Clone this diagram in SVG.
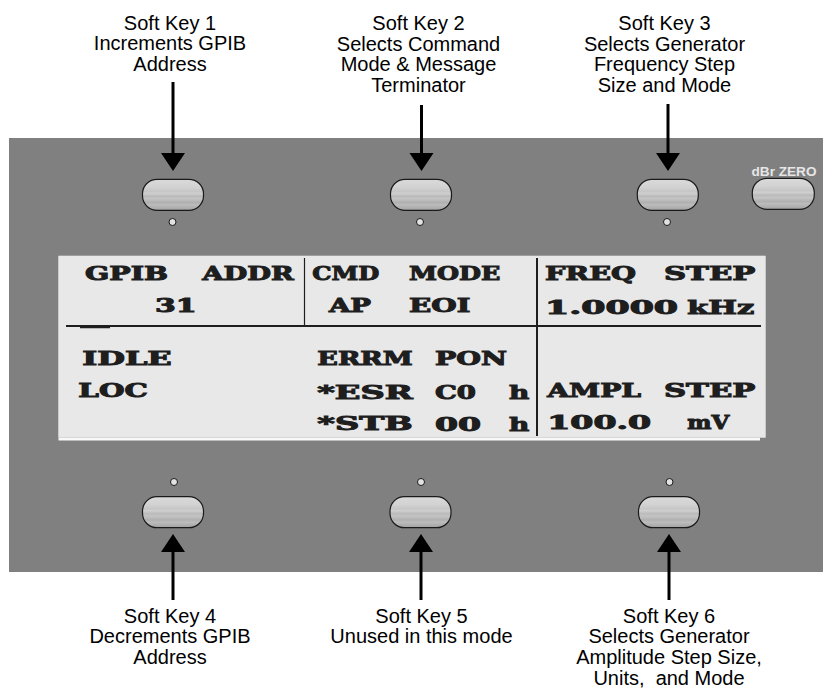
<svg xmlns="http://www.w3.org/2000/svg" width="823" height="688" viewBox="0 0 823 688">
<style>
.lbl{font-family:"Liberation Sans",Arial,sans-serif;font-size:20px;fill:#000;text-anchor:middle}
.lcd{font-family:"DejaVu Serif","Liberation Serif",serif;font-weight:bold;font-size:18.8px;fill:#1e1e1e;stroke:#1e1e1e;stroke-width:1;stroke-linejoin:miter}
.btn{fill:url(#btnGrad);stroke:#1a1a1a;stroke-width:1.2}
.led{fill:#e2e2e2;stroke:#1a1a1a;stroke-width:1}
.conn{stroke:#000;stroke-width:3;fill:none;marker-end:url(#arrow)}
.div{stroke:#1e1e1e;fill:none}
</style>
<defs>
<linearGradient id="btnGrad" x1="0" y1="0" x2="0" y2="1">
<stop offset="0" stop-color="#dadada"/>
<stop offset="0.25" stop-color="#d2d2d2"/>
<stop offset="0.4" stop-color="#c6c6c6"/>
<stop offset="0.45" stop-color="#d0d0d0"/>
<stop offset="0.55" stop-color="#bababa"/>
<stop offset="0.62" stop-color="#c4c4c4"/>
<stop offset="0.75" stop-color="#b0b0b0"/>
<stop offset="0.82" stop-color="#bcbcbc"/>
<stop offset="1" stop-color="#a2a2a2"/>
</linearGradient>
<marker id="arrow" markerUnits="userSpaceOnUse" markerWidth="18" markerHeight="24" viewBox="0 -12 18 24" refX="0" refY="0" orient="auto" overflow="visible">
<path d="M0,-12 L18,0 L0,12 Z" fill="#000"/>
</marker>
</defs>

<rect id="panel" x="9" y="138" width="814" height="434" fill="#808080"/>

<g id="lcd">
<rect x="58.3" y="255.7" width="707.4" height="182" fill="#e8e8e8"/>
<rect x="58.5" y="437.7" width="701.5" height="2.8" fill="#f8f8f8"/>
<line class="div" x1="66" y1="326" x2="761" y2="326" stroke-width="2"/>
<line class="div" x1="80" y1="327.5" x2="110" y2="327.5" stroke-width="1.5"/>
<line class="div" x1="304.5" y1="258" x2="304.5" y2="326" stroke-width="1.2"/>
<line class="div" x1="537" y1="258" x2="537" y2="436" stroke-width="2"/>
<text class="lcd" x="85" y="279.5" textLength="83" lengthAdjust="spacingAndGlyphs">GPIB</text>
<text class="lcd" x="202.3" y="279.5" textLength="91.4" lengthAdjust="spacingAndGlyphs">ADDR</text>
<text class="lcd" x="312.3" y="279.5" textLength="67" lengthAdjust="spacingAndGlyphs">CMD</text>
<text class="lcd" x="409" y="279.5" textLength="91.3" lengthAdjust="spacingAndGlyphs">MODE</text>
<text class="lcd" x="545" y="279.5" textLength="91" lengthAdjust="spacingAndGlyphs">FREQ</text>
<text class="lcd" x="664" y="279.5" textLength="91.3" lengthAdjust="spacingAndGlyphs">STEP</text>
<text class="lcd" x="155" y="312" textLength="41.7" lengthAdjust="spacingAndGlyphs">31</text>
<text class="lcd" x="329" y="312" textLength="42" lengthAdjust="spacingAndGlyphs">AP</text>
<text class="lcd" x="409" y="312" textLength="61.3" lengthAdjust="spacingAndGlyphs">EOI</text>
<text class="lcd" x="545" y="313.5" textLength="133" lengthAdjust="spacingAndGlyphs">1.0000</text>
<text class="lcd" x="687.3" y="313.5" textLength="67" lengthAdjust="spacingAndGlyphs">kHz</text>
<text class="lcd" x="82.3" y="365" textLength="89.4" lengthAdjust="spacingAndGlyphs">IDLE</text>
<text class="lcd" x="317.3" y="365" textLength="95.4" lengthAdjust="spacingAndGlyphs">ERRM</text>
<text class="lcd" x="435" y="364.8" textLength="72" lengthAdjust="spacingAndGlyphs">PON</text>
<text class="lcd" x="78.3" y="397" textLength="69.4" lengthAdjust="spacingAndGlyphs">LOC</text>
<text class="lcd" x="317.3" y="398.5" textLength="95.4" lengthAdjust="spacingAndGlyphs">*ESR</text>
<text class="lcd" x="435" y="398.5" textLength="41" lengthAdjust="spacingAndGlyphs">C0</text>
<text class="lcd" x="509" y="398.5" textLength="20.3" lengthAdjust="spacingAndGlyphs">h</text>
<text class="lcd" x="547.3" y="397" textLength="93.7" lengthAdjust="spacingAndGlyphs">AMPL</text>
<text class="lcd" x="664" y="397" textLength="91.3" lengthAdjust="spacingAndGlyphs">STEP</text>
<text class="lcd" x="317.3" y="430.3" textLength="95.4" lengthAdjust="spacingAndGlyphs">*STB</text>
<text class="lcd" x="435" y="430.5" textLength="46" lengthAdjust="spacingAndGlyphs">00</text>
<text class="lcd" x="509" y="430.5" textLength="20.3" lengthAdjust="spacingAndGlyphs">h</text>
<text class="lcd" x="547.3" y="429" textLength="103.7" lengthAdjust="spacingAndGlyphs">100.0</text>
<text class="lcd" x="687.3" y="429" textLength="42" lengthAdjust="spacingAndGlyphs">mV</text>
</g>

<g id="key1">
<rect class="btn" x="142.5" y="179.3" width="61" height="31" rx="14.5" ry="14.5"/>
<circle class="led" cx="172.5" cy="222" r="3.5"/>
<text class="lbl" x="170" y="29.5"><tspan x="170">Soft Key 1</tspan><tspan x="170" y="50.3">Increments GPIB</tspan><tspan x="170" y="71">Address</tspan></text>
</g>
<g id="key2">
<rect class="btn" x="390.5" y="179.3" width="61" height="31" rx="14.5" ry="14.5"/>
<circle class="led" cx="420" cy="222" r="3.5"/>
<text class="lbl" x="418.5" y="30"><tspan x="418.5">Soft Key 2</tspan><tspan x="418.5" y="50.7">Selects Command</tspan><tspan x="418.5" y="71.4">Mode &amp; Message</tspan><tspan x="418.5" y="92">Terminator</tspan></text>
</g>
<g id="key3">
<rect class="btn" x="637.3" y="179.3" width="61" height="31" rx="14.5" ry="14.5"/>
<circle class="led" cx="667" cy="222" r="3.5"/>
<text class="lbl" x="664.5" y="30"><tspan x="664.5">Soft Key 3</tspan><tspan x="664.5" y="50.7">Selects Generator</tspan><tspan x="664.5" y="71.3">Frequency Step</tspan><tspan x="664.5" y="92">Size and Mode</tspan></text>
</g>
<g id="dbr-zero">
<rect class="btn" x="752.3" y="178.3" width="62" height="31" rx="14.5" ry="14.5"/>
<text x="784" y="175.5" font-family="Liberation Sans,Arial,sans-serif" font-size="13.5" font-weight="bold" fill="#e6e6e6" text-anchor="middle" textLength="65" lengthAdjust="spacingAndGlyphs">dBr ZERO</text>
</g>
<g id="key4">
<rect class="btn" x="142.5" y="496.7" width="61" height="31" rx="14.5" ry="14.5"/>
<circle class="led" cx="174" cy="482" r="3.5"/>
<text class="lbl" x="170" y="622.7"><tspan x="170">Soft Key 4</tspan><tspan x="170" y="643.3">Decrements GPIB</tspan><tspan x="170" y="664">Address</tspan></text>
</g>
<g id="key5">
<rect class="btn" x="390" y="496.7" width="61" height="31" rx="14.5" ry="14.5"/>
<circle class="led" cx="421" cy="482" r="3.5"/>
<text class="lbl" x="421.5" y="622.7"><tspan x="421.5">Soft Key 5</tspan><tspan x="421.5" y="643.3">Unused in this mode</tspan></text>
</g>
<g id="key6">
<rect class="btn" x="638.5" y="496.7" width="61" height="31" rx="14.5" ry="14.5"/>
<circle class="led" cx="669.5" cy="482" r="3.5"/>
<text class="lbl" x="669" y="622.7"><tspan x="669">Soft Key 6</tspan><tspan x="669" y="643.3">Selects Generator</tspan><tspan x="669" y="664">Amplitude Step Size,</tspan><tspan x="669" y="684.7" xml:space="preserve">Units,  and Mode</tspan></text>
</g>

<g id="connectors">
<line class="conn" x1="173" y1="82" x2="173" y2="153"/>
<line class="conn" x1="421.5" y1="105" x2="421.5" y2="153"/>
<line class="conn" x1="668" y1="104" x2="668" y2="153"/>
<line class="conn" x1="173" y1="600" x2="173" y2="552"/>
<line class="conn" x1="421" y1="600" x2="421" y2="552"/>
<line class="conn" x1="669" y1="600" x2="669" y2="552"/>
</g>
</svg>
